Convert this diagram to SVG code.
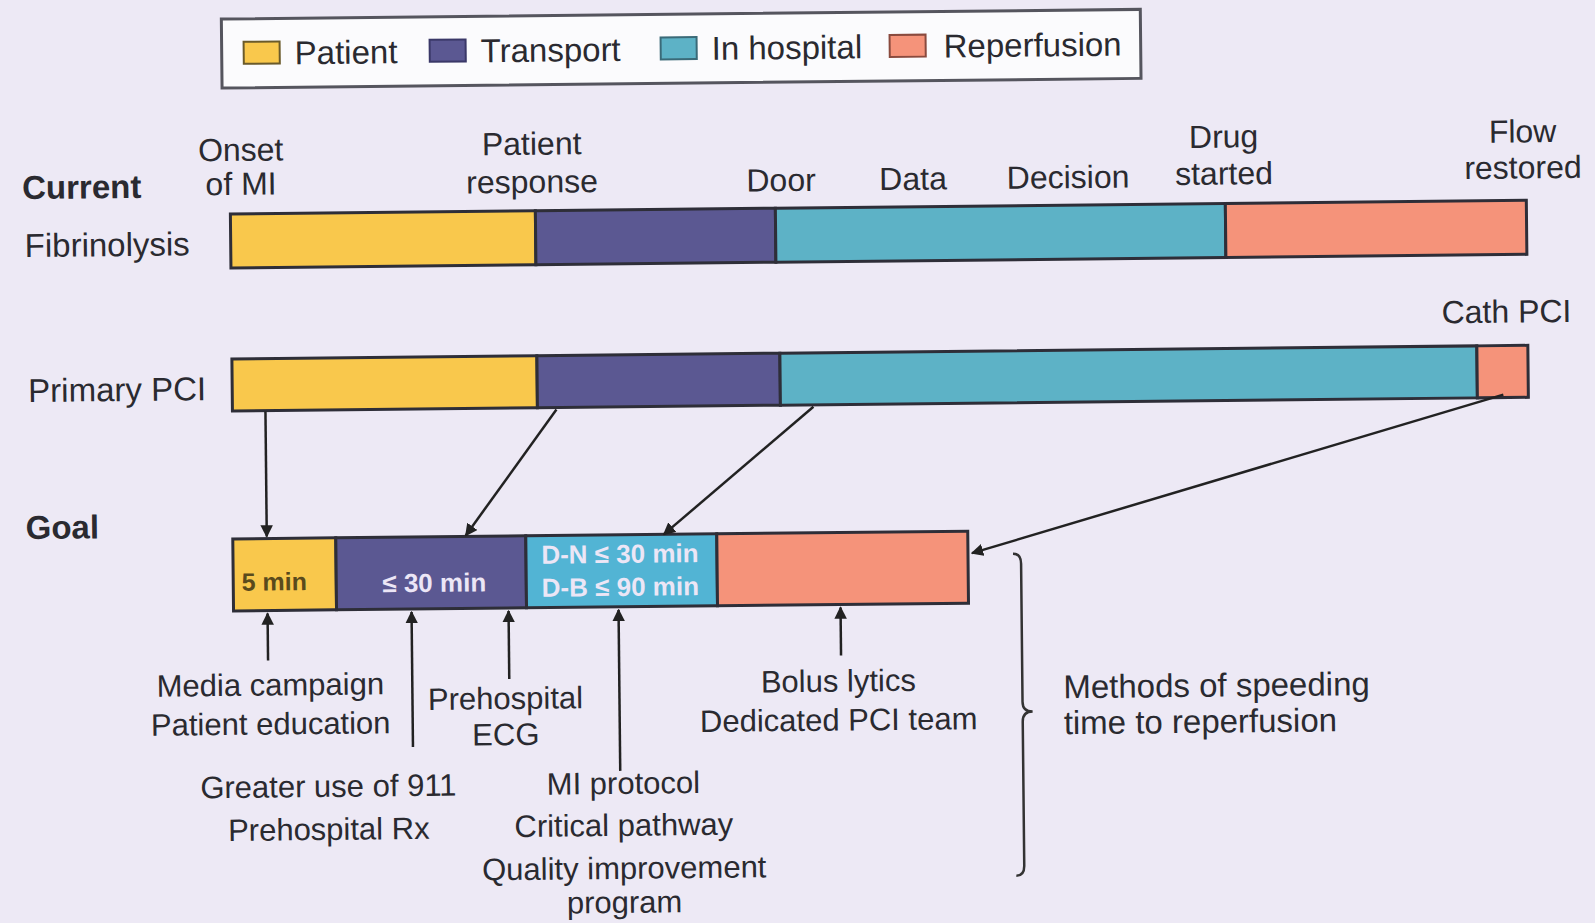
<svg xmlns="http://www.w3.org/2000/svg" width="1595" height="923" viewBox="0 0 1595 923">
<style>
text{font-family:"Liberation Sans",Arial,sans-serif;fill:#2a2a30}
.lbl{font-size:32px}
.row{font-size:33px}
.bold{font-weight:bold}
.bot{font-size:31px}
.mid{text-anchor:middle}
.seg{stroke:#2e2e38;stroke-width:3}
.pat{fill:#f9c84c}
.tra{fill:#5b5892}
.hos{fill:#5db2c6}
.rep{fill:#f5937a}
.hos2{fill:#52b4d4}
.in{font-size:26px;font-weight:bold;fill:#ece6f6}
.arr{stroke:#222;stroke-width:2.5;fill:none;marker-end:url(#ah)}
</style>
<defs>
<marker id="ah" viewBox="0 0 10 10" refX="9" refY="5" markerWidth="5" markerHeight="5" orient="auto" markerUnits="strokeWidth">
<path d="M0,0 L10,5 L0,10 z" fill="#222"/>
</marker>
</defs>
<rect x="0" y="0" width="1595" height="923" fill="#ede9f5"/>
<g transform="rotate(-0.6 797 461)">
<g id="legend">
<rect x="226" y="13" width="919" height="69" fill="#fbfbfd" stroke="#55555e" stroke-width="3"/>
<rect class="pat" x="248" y="36" width="36" height="22" stroke="#6a5a2a" stroke-width="2"/>
<text class="row" x="299" y="59">Patient</text>
<rect class="tra" x="434" y="36" width="36" height="22" stroke="#3a3868" stroke-width="2"/>
<text class="row" x="485" y="59">Transport</text>
<rect class="hos" x="665" y="36" width="36" height="22" stroke="#3a6a78" stroke-width="2"/>
<text class="row" x="716" y="59">In hospital</text>
<rect class="rep" x="894" y="36" width="36" height="22" stroke="#8a4a3e" stroke-width="2"/>
<text class="row" x="948" y="59">Reperfusion</text>
</g>
<g id="headers">
<text class="row bold" x="25" y="191">Current</text>
<text class="lbl mid" x="244" y="155">Onset</text>
<text class="lbl mid" x="244" y="189">of MI</text>
<text class="lbl mid" x="535" y="152">Patient</text>
<text class="lbl mid" x="535" y="190">response</text>
<text class="lbl mid" x="784" y="191">Door</text>
<text class="lbl mid" x="916" y="191">Data</text>
<text class="lbl mid" x="1071" y="191">Decision</text>
<text class="lbl mid" x="1227" y="152">Drug</text>
<text class="lbl mid" x="1227" y="189">started</text>
<text class="lbl mid" x="1526" y="150">Flow</text>
<text class="lbl mid" x="1526" y="186">restored</text>
</g>
<g id="fibrinolysis">
<text class="row" x="27" y="249">Fibrinolysis</text>
<rect class="seg pat" x="233" y="208" width="305" height="54"/>
<rect class="seg tra" x="538" y="208" width="240" height="54"/>
<rect class="seg hos" x="778" y="208" width="450" height="54"/>
<rect class="seg rep" x="1228" y="208" width="301" height="54"/>
</g>
<g id="primary-pci">
<text class="row" x="29" y="394">Primary PCI</text>
<text class="lbl mid" x="1508" y="330">Cath PCI</text>
<rect class="seg pat" x="233" y="353" width="305" height="52"/>
<rect class="seg tra" x="538" y="353" width="243" height="52"/>
<rect class="seg hos" x="781" y="353" width="697" height="52"/>
<rect class="seg rep" x="1478" y="353" width="51" height="52"/>
</g>
<g id="goal">
<text class="row bold" x="25" y="531">Goal</text>
<rect class="seg pat" x="232" y="533" width="103" height="72"/>
<rect class="seg tra" x="335" y="533" width="190" height="72"/>
<rect class="seg hos2" x="525" y="533" width="191" height="72"/>
<rect class="seg rep" x="716" y="533" width="251" height="72"/>
<text class="mid" x="273" y="585" style="font-size:25px;font-weight:bold;fill:#5a4a1c">5 min</text>
<text class="in mid" x="433" y="588">≤ 30 min</text>
<text class="in mid" x="619" y="561">D-N ≤ 30 min</text>
<text class="in mid" x="619" y="594">D-B ≤ 90 min</text>
</g>
<g id="methods">
<text class="bot mid" x="268" y="690">Media campaign</text>
<text class="bot mid" x="268" y="729">Patient education</text>
<text class="bot mid" x="503" y="706">Prehospital</text>
<text class="bot mid" x="503" y="742">ECG</text>
<text class="bot mid" x="325" y="792">Greater use of 911</text>
<text class="bot mid" x="325" y="835">Prehospital Rx</text>
<text class="bot mid" x="620" y="792">MI protocol</text>
<text class="bot mid" x="620" y="834">Critical pathway</text>
<text class="bot mid" x="620" y="877">Quality improvement</text>
<text class="bot mid" x="620" y="911">program</text>
<text class="bot mid" x="836" y="692">Bolus lytics</text>
<text class="bot mid" x="836" y="731">Dedicated PCI team</text>
<text class="row" x="1061" y="701">Methods of speeding</text>
<text class="row" x="1061" y="737">time to reperfusion</text>
</g>
<g id="connectors">
<path class="arr" d="M266 406 L266 531"/>
<path class="arr" d="M557 407 L465 532"/>
<path class="arr" d="M814 407 L663 533"/>
<path class="arr" d="M1504 402 L971 555"/>
<path class="arr" d="M266 655 L266 608"/>
<path class="arr" d="M410 743 L410 608"/>
<path class="arr" d="M507 676 L507 608"/>
<path class="arr" d="M617 769 L617 608"/>
<path class="arr" d="M839 656 L839 608"/>
<path d="M1012 556 Q1020 556 1020 566 L1020 704 Q1020 714 1030 714 Q1020 714 1020 724 L1020 868 Q1020 878 1012 878" fill="none" stroke="#333" stroke-width="2.5"/>
</g>
</g>
</svg>
